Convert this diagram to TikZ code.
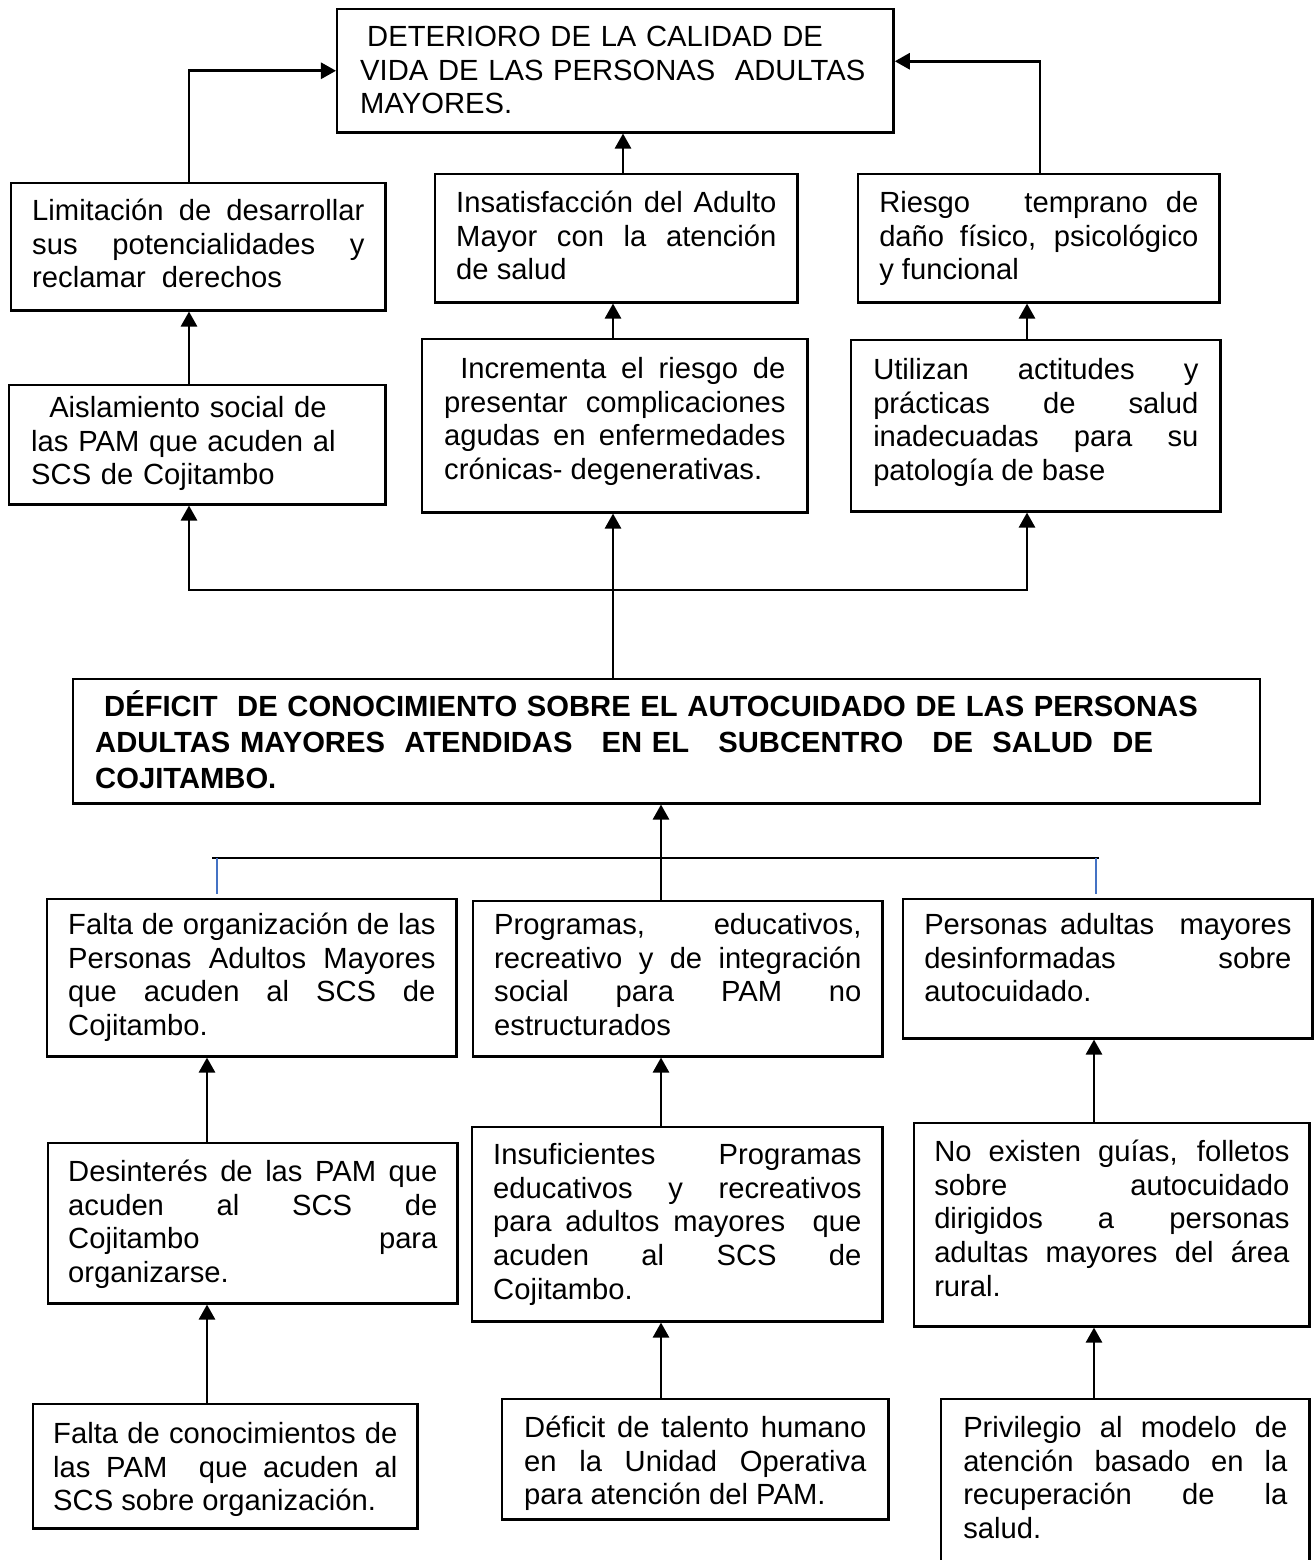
\documentclass[tikz,border=0pt]{standalone}
\usepackage{fontspec}
\setmainfont{Liberation Sans}
\usetikzlibrary{arrows.meta}
\definecolor{azulw}{RGB}{68,114,196}
\tolerance=10000
\hyphenpenalty=10000

\begin{document}
\begin{tikzpicture}[x=0.01cm,y=0.01cm]\tikzstyle{every node}+=[inner sep=0pt]
\tikzstyle{caja}=[draw, line width=0.7pt, anchor=north west, inner ysep=0pt, align=justify, font=\fontsize{8.3}{9.6}\selectfont]
\tikzstyle{flecha}=[-{Triangle[length=4.3pt,width=4.6pt]}, line width=0.75pt]
\tikzstyle{linea}=[line width=0.75pt]
\tikzstyle{azul}=[draw=azulw, line width=0.6pt]
  \useasboundingbox (0,0) rectangle (1314,-1560);
  \clip (0,0) rectangle (1314,-1560);
  \node[caja, align=left, text width=5.10cm, inner xsep=0.23cm, text height=0.37cm, text depth=0.86cm] (topbox) at (336,-8) {\hspace*{0.07cm}DETERIORO DE LA CALIDAD DE\\ VIDA DE LAS PERSONAS\ \ ADULTAS\\ MAYORES.};
  \node[caja, text width=3.32cm, inner xsep=0.21cm, text height=0.37cm, text depth=0.90cm] (limit) at (10,-182) {Limitación de desarrollar\linebreak sus potencialidades y\linebreak reclamar\ \ derechos};
  \node[caja, text width=3.20cm, inner xsep=0.21cm, text height=0.38cm, text depth=0.90cm] (insat) at (434,-173) {Insatisfacción del Adulto\linebreak Mayor con la atención\linebreak de salud};
  \node[caja, text width=3.19cm, inner xsep=0.21cm, text height=0.38cm, text depth=0.90cm] (riesgo) at (857,-173) {Riesgo\ \ \ temprano de\linebreak daño físico, psicológico\linebreak y funcional};
  \node[caja, align=left, text width=3.32cm, inner xsep=0.22cm, text height=0.32cm, text depth=0.87cm] (aisla) at (8,-384) {\hspace*{0.18cm}Aislamiento social de\\ las PAM que acuden al\\ SCS de Cojitambo};
  \node[caja, text width=3.41cm, inner xsep=0.22cm, text height=0.39cm, text depth=1.34cm] (increm) at (421,-338) {\hspace*{0.16cm}Incrementa el riesgo de\linebreak presentar\ \ complicaciones\linebreak agudas en enfermedades\linebreak crónicas- degenerativas.};
  \node[caja, text width=3.25cm, inner xsep=0.22cm, text height=0.39cm, text depth=1.32cm] (utiliz) at (850,-339) {Utilizan actitudes y\linebreak prácticas de salud\linebreak inadecuadas para su\linebreak patología de base};
  \node[caja, align=left, text width=11.42cm, inner xsep=0.22cm, text height=0.37cm, text depth=0.87cm, font=\fontsize{8.3}{10.3}\selectfont\bfseries] (deficit) at (72,-678) {\hspace*{0.09cm}DÉFICIT\ \ DE CONOCIMIENTO SOBRE EL AUTOCUIDADO DE LAS PERSONAS\\ ADULTAS MAYORES\ \ ATENDIDAS\ \ \ EN EL\ \ \ SUBCENTRO\ \ \ DE\ \ SALUD\ \ DE\\ COJITAMBO.};
  \node[caja, text width=3.67cm, inner xsep=0.21cm, text height=0.35cm, text depth=1.22cm] (faltaorg) at (46,-898) {Falta de organización de las\linebreak Personas Adultos Mayores\linebreak que acuden al SCS de\linebreak Cojitambo.};
  \node[caja, text width=3.67cm, inner xsep=0.21cm, text height=0.33cm, text depth=1.22cm] (program) at (472,-900) {Programas, educativos,\linebreak recreativo y de integración\linebreak social para PAM no\linebreak estructurados};
  \node[caja, text width=3.67cm, inner xsep=0.21cm, text height=0.35cm, text depth=1.04cm] (personas) at (902,-898) {Personas adultas\ \ mayores\linebreak desinformadas sobre\linebreak autocuidado.};
  \node[caja, text width=3.69cm, inner xsep=0.20cm, text height=0.38cm, text depth=1.22cm] (desint) at (47,-1142) {Desinterés de las PAM que\linebreak acuden al SCS de\linebreak Cojitambo para\linebreak organizarse.};
  \node[caja, text width=3.68cm, inner xsep=0.21cm, text height=0.37cm, text depth=1.57cm] (insuf) at (471,-1126) {Insuficientes Programas\linebreak educativos y recreativos\linebreak para adultos mayores\ \ que\linebreak acuden al SCS de\linebreak Cojitambo.};
  \node[caja, text width=3.55cm, inner xsep=0.20cm, text height=0.38cm, text depth=1.65cm] (noexist) at (913,-1122) {No existen guías, folletos\linebreak sobre autocuidado\linebreak dirigidos a personas\linebreak adultas mayores del área\linebreak rural.};
  \node[caja, text width=3.44cm, inner xsep=0.20cm, text height=0.39cm, text depth=0.85cm] (faltacon) at (32,-1403) {Falta de conocimientos de\linebreak las PAM\ \ que acuden al\linebreak SCS sobre organización.};
  \node[caja, text width=3.42cm, inner xsep=0.22cm, text height=0.38cm, text depth=0.82cm] (talento) at (501,-1398) {Déficit de talento humano\linebreak en la Unidad Operativa\linebreak para atención del PAM.};
  \node[caja, text width=3.24cm, inner xsep=0.22cm, text height=0.38cm, text depth=1.50cm] (privil) at (940,-1398) {Privilegio al modelo de\linebreak atención basado en la\linebreak recuperación de la\linebreak salud.};
  \coordinate (xA) at (189,0);
  \coordinate (xB) at (623,0);
  \coordinate (xC) at (613,0);
  \coordinate (xD) at (1027,0);
  \coordinate (xE) at (1040,0);
  \coordinate (xF) at (207,0);
  \coordinate (xG) at (661,0);
  \coordinate (xH) at (1094,0);
  \draw[flecha] (limit.north -| xA) |- (topbox.west);
  \draw[flecha] (insat.north -| xB) -- (topbox.south -| xB);
  \draw[flecha] (riesgo.north -| xE) |- ([yshift=0.095cm]topbox.east);
  \draw[flecha] (aisla.north -| xA) -- (limit.south -| xA);
  \draw[flecha] (increm.north -| xC) -- (insat.south -| xC);
  \draw[flecha] (utiliz.north -| xD) -- (riesgo.south -| xD);
  \draw[flecha] (deficit.north -| xC) -- (increm.south -| xC);
  \coordinate (barra1) at (613,-590);
  \draw[flecha] (barra1) -| (aisla.south -| xA);
  \draw[flecha] (barra1) -| (utiliz.south -| xD);
  \coordinate (barra2a) at (212,-858);
  \coordinate (barra2b) at (1099,-858);
  \draw[linea] (barra2a) -- (barra2b);
  \draw[azul] ([xshift=0.05cm]barra2a) -- ++(0,-36);
  \draw[azul] ([xshift=-0.03cm]barra2b) -- ++(0,-36);
  \draw[flecha] (barra2a -| xG) -- (deficit.south -| xG);
  \draw[linea] (barra2a -| xG) -- (program.north -| xG);
  \draw[flecha] (desint.north -| xF) -- (faltaorg.south -| xF);
  \draw[flecha] (insuf.north -| xG) -- (program.south -| xG);
  \draw[flecha] (noexist.north -| xH) -- (personas.south -| xH);
  \draw[flecha] (faltacon.north -| xF) -- (desint.south -| xF);
  \draw[flecha] (talento.north -| xG) -- (insuf.south -| xG);
  \draw[flecha] (privil.north -| xH) -- (noexist.south -| xH);
\end{tikzpicture}
\end{document}
